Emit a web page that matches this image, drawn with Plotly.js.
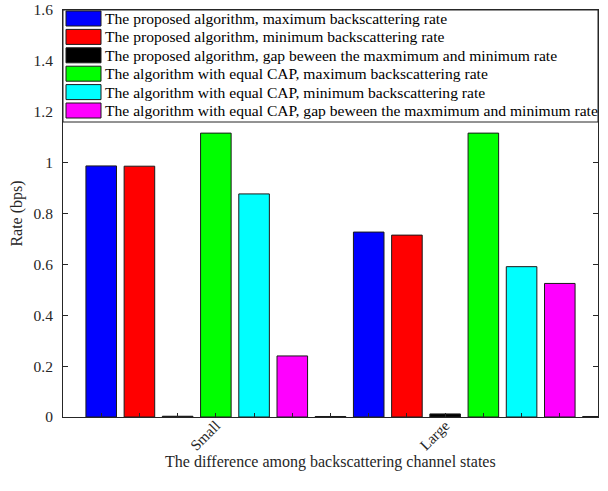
<!DOCTYPE html>
<html>
<head>
<meta charset="utf-8">
<script src="https://cdn.plot.ly/plotly-3.0.1.min.js"></script>
<style>html,body{margin:0;padding:0;background:#fff;}#chart{width:608px;height:491px;}</style>
</head>
<body>
<div id="chart"></div>
<script>
// ---- data ----
const groups = ["Small", "Large"];
const seriesNames = [
  "The proposed algorithm, maximum backscattering rate",
  "The proposed algorithm, minimum backscattering rate",
  "The proposed algorithm, gap beween the maxmimum and minimum rate",
  "The algorithm with equal CAP, maximum backscattering rate",
  "The algorithm with equal CAP, minimum backscattering rate",
  "The algorithm with equal CAP, gap beween the maxmimum and minimum rate"
];
const seriesColors = ["#0000ff", "#ff0000", "#000000", "#00ff00", "#00ffff", "#ff00ff"];
const proposedMax = [0.987, 0.727];
const proposedMin = [0.986, 0.715];
const proposedGap = [0.003, 0.012];
const equalCapMax = [1.116, 1.116];
const equalCapMin = [0.877, 0.591];
const equalCapGap = [0.240, 0.525];
const spacerValues = [0.002, 0.002];   // near-zero separator bars after each group
const xTickLabels = {4: "Small", 10: "Large"};
const xTitle = "The difference among backscattering channel states";
const yTitle = "Rate (bps)";

const seriesValues = [proposedMax, proposedMin, proposedGap, equalCapMax, equalCapMin, equalCapGap];
const perGroup = seriesValues.length + 1;

const FONT = "Liberation Serif";
const traces = [];
seriesValues.forEach((vals, i) => {
  traces.push({
    type: "bar",
    name: seriesNames[i],
    x: groups.map((g, gi) => gi * perGroup + i + 1),
    y: vals,
    width: 0.8,
    marker: {color: seriesColors[i], line: {color: "#1a1a1a", width: 1}},
    showlegend: false
  });
});
traces.push({
  type: "bar",
  name: "separator",
  x: groups.map((g, gi) => gi * perGroup + perGroup),
  y: spacerValues,
  width: 0.8,
  marker: {color: "#000000", line: {color: "#1a1a1a", width: 1}},
  showlegend: false
});

const tickvals = [];
const ticktext = [];
for (let k = 1; k <= groups.length * perGroup; k++) {
  tickvals.push(k);
  ticktext.push(xTickLabels[k] || "");
}

// ---- custom legend (pixel helpers) ----
const L = 63, R = 598, T = 10, B = 417;
const px = v => (v - L) / (R - L);
const py = v => (B - v) / (B - T);
const shapes = [];
const annotations = [];
shapes.push({type: "rect", xref: "paper", yref: "paper", x0: px(63), x1: px(598), y0: py(10), y1: py(122),
  fillcolor: "#ffffff", line: {color: "#262626", width: 1}, layer: "above"});
const rowY0 = 18.5, rowStep = 18.4;
seriesNames.forEach((name, i) => {
  const cy = rowY0 + i * rowStep;
  shapes.push({type: "rect", xref: "paper", yref: "paper", x0: px(66), x1: px(101), y0: py(cy + 7.5), y1: py(cy - 7.5),
    fillcolor: seriesColors[i], line: {color: "#1a1a1a", width: 1}, layer: "above"});
  annotations.push({xref: "paper", yref: "paper", x: px(103), y: py(cy), xanchor: "left", yanchor: "middle",
    text: name, showarrow: false, font: {family: FONT, size: 15.6, color: "#000"}});
});
// x-axis title placed as text below the rotated tick labels
annotations.push({xref: "paper", yref: "paper", x: 0.5, y: py(462), xanchor: "center", yanchor: "middle",
  text: xTitle, showarrow: false, font: {family: FONT, size: 16, color: "#262626"}});

const layout = {
  width: 608, height: 491,
  margin: {l: 63, r: 10, t: 10, b: 74},
  paper_bgcolor: "#ffffff", plot_bgcolor: "#ffffff",
  barmode: "overlay",
  showlegend: false,
  font: {family: FONT, size: 15, color: "#262626"},
  xaxis: {
    range: [0, groups.length * perGroup],
    tickmode: "array", tickvals: tickvals, ticktext: ticktext,
    tickangle: -45,
    ticks: "inside", ticklen: 4, tickcolor: "#262626",
    ticklabelstandoff: -7,
    showline: true, linecolor: "#262626", linewidth: 1, mirror: "ticks",
    showgrid: false, zeroline: false,
    tickfont: {family: FONT, size: 15, color: "#262626"}
  },
  yaxis: {
    range: [0, 1.6], dtick: 0.2, tick0: 0,
    ticks: "inside", ticklen: 5, tickcolor: "#262626",
    showline: true, linecolor: "#262626", linewidth: 1, mirror: "ticks",
    showgrid: false, zeroline: false,
    ticklabelstandoff: 6,
    tickfont: {family: FONT, size: 15.5, color: "#262626"},
    title: {text: yTitle, font: {family: FONT, size: 16, color: "#262626"}, standoff: 6}
  },
  shapes: shapes,
  annotations: annotations
};

Plotly.newPlot("chart", traces, layout, {displayModeBar: false, staticPlot: true});
</script>
</body>
</html>
